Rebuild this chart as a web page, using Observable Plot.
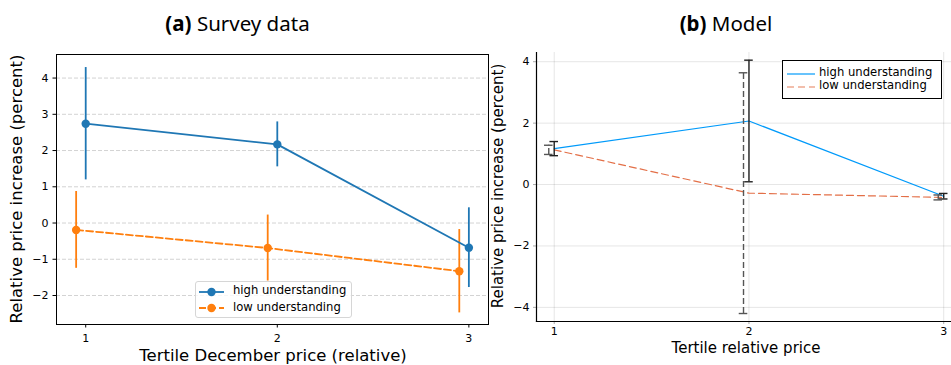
<!DOCTYPE html>
<html><head><meta charset="utf-8">
<script src="https://cdn.jsdelivr.net/npm/d3@7"></script>
<script src="https://cdn.jsdelivr.net/npm/@observablehq/plot@0.6"></script>
<style>
body{margin:0;background:#fff;}
#wrap{position:relative;width:951px;height:365px;overflow:hidden;font-family:"DejaVu Sans",sans-serif;color:#000;}
#wrap svg{position:absolute;top:0;}
.title{position:absolute;top:13px;font-family:"Noto Sans";font-size:20.5px;line-height:1;white-space:nowrap;transform:translateX(-50%);}
.title b{font-weight:700;}
.lab{position:absolute;line-height:1;white-space:nowrap;}
.xlab{transform:translateX(-50%);}
.ylab{transform:translate(-50%,-50%) rotate(-90deg);}
.legend{position:absolute;font-size:11.6px;line-height:1;box-sizing:border-box;}
.legend .row{position:absolute;left:0;white-space:nowrap;}
.legend svg{position:absolute !important;}
.legend span{position:absolute;}
</style></head>
<body><div id="wrap"></div>
<script>
// ---- data ----
const tertiles = [1, 2, 3];
const seriesNames = ["high understanding", "low understanding"];
// (a) survey data
const surveyHigh = [2.74, 2.17, -0.68];
const surveyHighErr = [1.55, 0.62, 1.10];
const surveyLow = [-0.19, -0.69, -1.33];
const surveyLowErr = [1.06, 0.91, 1.15];
const surveyLowShift = -0.05;
const surveyYTicks = [-2, -1, 0, 1, 2, 3, 4];
// (b) model
const modelHigh = [1.17, 2.07, -0.38];
const modelHighErr = [0.23, 1.98, 0.09];
const modelLow = [1.13, -0.28, -0.42];
const modelLowErr = [0.15, 3.92, 0.08];
const modelLowShift = -0.028;
const modelYTicks = [-4, -2, 0, 2, 4];

const surveyColors = {"high understanding": "#1f77b4", "low understanding": "#ff7f0e"};
const modelColors = {"high understanding": "#009AFA", "low understanding": "#E36F47"};

const survey = [];
tertiles.forEach((t, i) => {
  survey.push({x: t, y: surveyHigh[i], e: surveyHighErr[i], s: seriesNames[0]});
  survey.push({x: t + surveyLowShift, y: surveyLow[i], e: surveyLowErr[i], s: seriesNames[1]});
});
const model = [];
tertiles.forEach((t, i) => {
  model.push({x: t, y: modelHigh[i], e: modelHighErr[i], s: seriesNames[0], ex: t});
  model.push({x: t, y: modelLow[i], e: modelLowErr[i], s: seriesNames[1], ex: t + modelLowShift});
});
const sHigh = survey.filter(d => d.s === seriesNames[0]);
const sLow = survey.filter(d => d.s === seriesNames[1]);
const mHigh = model.filter(d => d.s === seriesNames[0]);
const mLow = model.filter(d => d.s === seriesNames[1]);

const wrap = document.getElementById("wrap");

// ---- (a) Survey data ----
const left = Plot.plot({
  width: 490, height: 365,
  marginLeft: 56, marginTop: 54, marginRight: 2, marginBottom: 41,
  style: {fontFamily: "DejaVu Sans", fontSize: "11px", background: "transparent", color: "#000"},
  x: {domain: [0.8475, 3.1025], label: null},
  y: {domain: [-2.8, 4.65], label: null},
  marks: [
    Plot.ruleY(surveyYTicks, {stroke: "#b0b0b0", strokeOpacity: 0.7, strokeDasharray: "4,2", strokeWidth: 0.8}),
    Plot.ruleX(sHigh, {x: "x", y1: d => d.y - d.e, y2: d => d.y + d.e, stroke: surveyColors[seriesNames[0]], strokeWidth: 1.8}),
    Plot.ruleX(sLow, {x: "x", y1: d => d.y - d.e, y2: d => d.y + d.e, stroke: surveyColors[seriesNames[1]], strokeWidth: 1.8}),
    Plot.line(sHigh, {x: "x", y: "y", stroke: surveyColors[seriesNames[0]], strokeWidth: 1.8}),
    Plot.line(sLow, {x: "x", y: "y", stroke: surveyColors[seriesNames[1]], strokeWidth: 1.8, strokeDasharray: "7,3"}),
    Plot.dot(sHigh, {x: "x", y: "y", r: 4.2, fill: surveyColors[seriesNames[0]]}),
    Plot.dot(sLow, {x: "x", y: "y", r: 4.2, fill: surveyColors[seriesNames[1]]}),
    Plot.axisX(tertiles, {tickSize: 3.5, tickPadding: 6, tickFormat: "d", label: null}),
    Plot.axisY(surveyYTicks, {tickSize: 3.5, tickPadding: 4.5, label: null}),
    Plot.frame({stroke: "#000", strokeWidth: 1})
  ]
});
left.style.left = "0px";
wrap.appendChild(left);

// ---- (b) Model ----
const right = Plot.plot({
  width: 461, height: 365,
  marginLeft: 46, marginTop: 52, marginRight: 0, marginBottom: 44,
  style: {fontFamily: "DejaVu Sans", fontSize: "11px", background: "transparent", color: "#000"},
  x: {domain: [0.909, 3.04], label: null},
  y: {domain: [-4.46, 4.3], label: null},
  marks: [
    Plot.gridX(tertiles, {stroke: "#000", strokeOpacity: 0.1, strokeWidth: 1}),
    Plot.gridY(modelYTicks, {stroke: "#000", strokeOpacity: 0.1, strokeWidth: 1}),
    Plot.line(mHigh, {x: "x", y: "y", stroke: modelColors[seriesNames[0]], strokeWidth: 1.2}),
    Plot.line(mLow, {x: "x", y: "y", stroke: modelColors[seriesNames[1]], strokeWidth: 1.2, strokeDasharray: "7,4"}),
    // error bars
    Plot.ruleX(mHigh, {x: "ex", y1: d => d.y - d.e, y2: d => d.y + d.e, stroke: "#222", strokeWidth: 1.4}),
    Plot.ruleY(mHigh, {y: d => d.y - d.e, x1: d => d.ex - 0.022, x2: d => d.ex + 0.022, stroke: "#222", strokeWidth: 1.4}),
    Plot.ruleY(mHigh, {y: d => d.y + d.e, x1: d => d.ex - 0.022, x2: d => d.ex + 0.022, stroke: "#222", strokeWidth: 1.4}),
    Plot.ruleX(mLow, {x: "ex", y1: d => d.y - d.e, y2: d => d.y + d.e, stroke: "#555", strokeWidth: 1.4, strokeDasharray: "6,3"}),
    Plot.ruleY(mLow, {y: d => d.y - d.e, x1: d => d.ex - 0.022, x2: d => d.ex + 0.022, stroke: "#555", strokeWidth: 1.4}),
    Plot.ruleY(mLow, {y: d => d.y + d.e, x1: d => d.ex - 0.022, x2: d => d.ex + 0.022, stroke: "#555", strokeWidth: 1.4}),
    Plot.axisX(tertiles, {tickSize: 3, tickPadding: 3, tickFormat: "d", label: null, stroke: "#aaa"}),
    Plot.axisY(modelYTicks, {tickSize: 3, tickPadding: 4, label: null, stroke: "#aaa"}),
    Plot.frame({anchor: "left", stroke: "#000", strokeWidth: 1.2}),
    Plot.frame({anchor: "bottom", stroke: "#000", strokeWidth: 1.2})
  ]
});
right.style.left = "490px";
wrap.appendChild(right);

// ---- titles & labels ----
function addDiv(cls, html, css) {
  const d = document.createElement("div");
  d.className = cls; d.innerHTML = html;
  Object.assign(d.style, css);
  wrap.appendChild(d);
  return d;
}
addDiv("title", "<b>(a)</b> Survey data", {left: "237.5px"});
addDiv("title", "<b>(b)</b> Model", {left: "726px"});
addDiv("lab xlab", "Tertile December price (relative)", {left: "273px", top: "347.7px", fontSize: "16.5px"});
addDiv("lab ylab", "Relative price increase (percent)", {left: "17px", top: "189px", fontSize: "16.5px"});
addDiv("lab xlab", "Tertile relative price", {left: "746px", top: "341.3px", fontSize: "15px"});
addDiv("lab ylab", "Relative price increase (percent)", {left: "498px", top: "186px", fontSize: "15px"});

// ---- legends ----
function legend(box, rows) {
  const lg = addDiv("legend", "", box);
  rows.forEach(r => {
    const ns = "http://www.w3.org/2000/svg";
    const svg = document.createElementNS(ns, "svg");
    svg.setAttribute("width", r.sw); svg.setAttribute("height", 12);
    svg.style.left = r.sx + "px"; svg.style.top = (r.cy - 6) + "px";
    const ln = document.createElementNS(ns, "line");
    ln.setAttribute("x1", 0); ln.setAttribute("x2", r.sw); ln.setAttribute("y1", 6); ln.setAttribute("y2", 6);
    ln.setAttribute("stroke", r.color); ln.setAttribute("stroke-width", r.lw);
    if (r.dash) ln.setAttribute("stroke-dasharray", r.dash);
    if (r.op) ln.setAttribute("stroke-opacity", r.op);
    svg.appendChild(ln);
    if (r.dot) {
      const c = document.createElementNS(ns, "circle");
      c.setAttribute("cx", r.sw / 2); c.setAttribute("cy", 6); c.setAttribute("r", 4.2); c.setAttribute("fill", r.color);
      svg.appendChild(c);
    }
    lg.appendChild(svg);
    const sp = document.createElement("span");
    sp.textContent = r.text;
    sp.style.left = r.tx + "px"; sp.style.top = (r.cy - 6.5) + "px";
    lg.appendChild(sp);
  });
}
legend({left: "195px", top: "281px", width: "157px", height: "37px", border: "1px solid #d6d6d6", borderRadius: "3px", background: "rgba(255,255,255,0.8)"}, [
  {text: seriesNames[0], color: surveyColors[seriesNames[0]], sx: 3, sw: 25, cy: 9.5, tx: 37, lw: 1.8, dot: true},
  {text: seriesNames[1], color: surveyColors[seriesNames[1]], sx: 3, sw: 25, cy: 26, tx: 37, lw: 1.8, dot: true, dash: "7,3"}
]);
legend({left: "782px", top: "60px", width: "160px", height: "39px", border: "1px solid #000", background: "#fff"}, [
  {text: seriesNames[0], color: modelColors[seriesNames[0]], sx: 4, sw: 28, cy: 12.5, tx: 36, lw: 1.2},
  {text: seriesNames[1], color: modelColors[seriesNames[1]], sx: 4, sw: 28, cy: 25.5, tx: 36, lw: 1.6, dash: "7,4", op: 0.6}
]);
</script>
</body></html>
